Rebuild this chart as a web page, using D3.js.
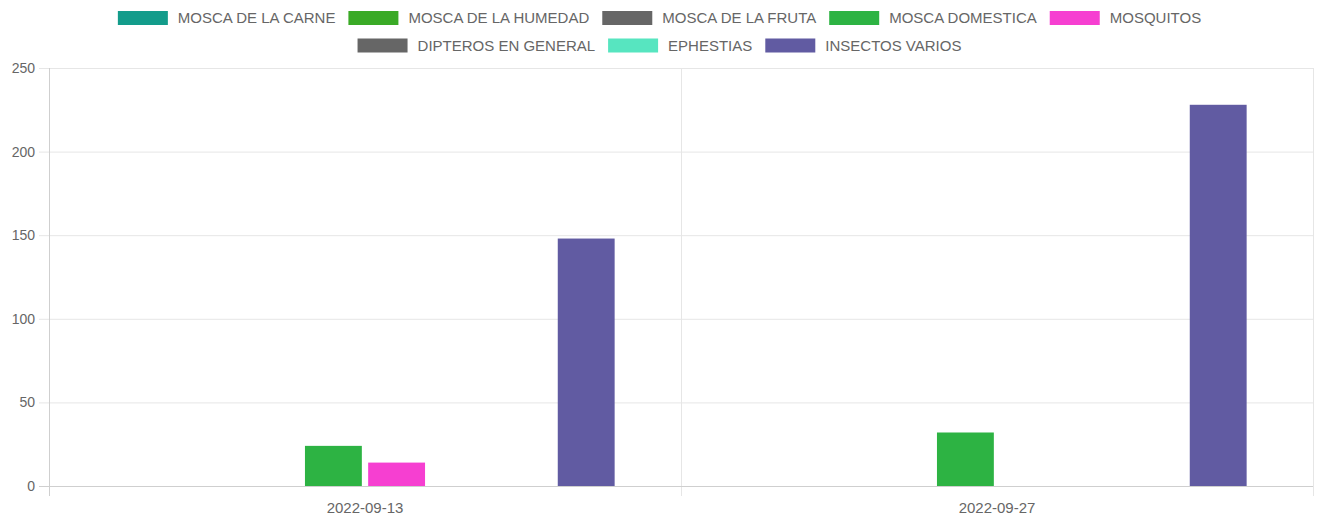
<!DOCTYPE html>
<html>
<head>
<meta charset="utf-8">
<script src="https://cdn.jsdelivr.net/npm/d3@7"></script>
<style>
  body { margin: 0; background: #fff; }
  svg { display: block; font-family: "Liberation Sans", Arial, sans-serif; }
</style>
</head>
<body>
<div id="root"></div>
<script>
const dates = ["2022-09-13", "2022-09-27"]
const series_names = ["MOSCA DE LA CARNE", "MOSCA DE LA HUMEDAD", "MOSCA DE LA FRUTA", "MOSCA DOMESTICA",
  "MOSQUITOS", "DIPTEROS EN GENERAL", "EPHESTIAS", "INSECTOS VARIOS"]
const series_colors = ["#139c8b", "#3aaa26", "#666666", "#2db343", "#f63fd1", "#666666", "#57e5c0", "#615ba2"]
const mosca_carne = [0, 0]
const mosca_humedad = [0, 0]
const mosca_fruta = [0, 0]
const mosca_domestica = [24, 32]
const mosquitos = [14, 0]
const dipteros = [0, 0]
const ephestias = [0, 0]
const insectos_varios = [148, 228]
const y_ticks = [0, 50, 100, 150, 200, 250]

const all_values = [mosca_carne, mosca_humedad, mosca_fruta, mosca_domestica, mosquitos, dipteros, ephestias, insectos_varios]

const W = 1321, H = 518
const margin = {top: 68, right: 8, bottom: 32, left: 49}
const width = W - margin.left - margin.right
const height = H - margin.top - margin.bottom

const svg = d3.select("#root").append("svg").attr("width", W).attr("height", H)

// legend
const legend = svg.append("g")
const box_w = 50, box_h = 14, gap = 10, pad = 13, font = 15
const measure = svg.append("text").style("font-size", font + "px")
const items = series_names.map((name, i) => {
  measure.text(name)
  return {name, color: series_colors[i], w: box_w + gap + measure.node().getComputedTextLength()}
})
measure.remove()
const rows = [[]]
let row_w = 0
for (let item of items) {
  if (row_w + item.w + pad > W - 20 && rows[rows.length - 1].length) { rows.push([]); row_w = 0 }
  rows[rows.length - 1].push(item)
  row_w += item.w + pad
}
rows.forEach((row, r) => {
  const total = d3.sum(row, d => d.w) + pad * (row.length - 1)
  let x = (W - total) / 2 - 1
  const cy = 18 + r * 27.5
  for (let item of row) {
    legend.append("rect").attr("x", x).attr("y", cy - box_h / 2).attr("width", box_w).attr("height", box_h)
      .attr("fill", item.color)
    legend.append("text").attr("x", x + box_w + gap).attr("y", cy).attr("dy", "0.35em")
      .style("font-size", font + "px").attr("fill", "#666").text(item.name)
    x += item.w + pad
  }
})

const g = svg.append("g").attr("transform", `translate(${margin.left},${margin.top})`)

const x_scale = d3.scaleBand().domain(dates).range([0, width])
const x_inner = d3.scaleBand().domain(series_names)
  .range([x_scale.bandwidth() * 0.1, x_scale.bandwidth() * 0.9])
const y_scale = d3.scaleLinear().domain([0, 250]).range([height, 0])

// horizontal grid
g.append("g").call(d3.axisLeft(y_scale).tickValues(y_ticks).tickSize(-width - 10).tickPadding(4))
  .attr("transform", "translate(-10,0)")
  .call(a => a.select(".domain").remove())
  .call(a => a.selectAll(".tick line").attr("x1", 0).attr("x2", width + 10).attr("stroke", "#e6e6e6"))
  .call(a => a.selectAll(".tick text").attr("fill", "#666").style("font-size", "14px")
    .style("font-family", "Liberation Sans, Arial, sans-serif"))

// vertical grid at category boundaries
const bounds = dates.map(d => x_scale(d)).concat([width])
g.append("g").selectAll("line").data(bounds).enter().append("line")
  .attr("x1", d => Math.round(d) + 0.5).attr("x2", d => Math.round(d) + 0.5)
  .attr("y1", 0).attr("y2", height + 10)
  .attr("stroke", (d, i) => i == 0 ? "#cfcfcf" : "#e6e6e6")

// x axis line
g.append("line").attr("x1", -10).attr("x2", width).attr("y1", height + 0.5).attr("y2", height + 0.5)
  .attr("stroke", "#cfcfcf")

g.append("g").selectAll("text").data(dates).enter().append("text")
  .attr("x", d => x_scale(d) + x_scale.bandwidth() / 2).attr("y", height + 27)
  .attr("text-anchor", "middle").attr("fill", "#666").style("font-size", "15px").text(d => d)

// bars
const bar_w = x_inner.bandwidth() * 0.9
series_names.forEach((name, s) => {
  g.append("g").selectAll("rect").data(all_values[s]).enter().append("rect")
    .filter(v => v > 0)
    .attr("x", (v, i) => x_scale(dates[i]) + x_inner(name) + (x_inner.bandwidth() - bar_w) / 2)
    .attr("y", v => y_scale(v))
    .attr("width", bar_w)
    .attr("height", v => height - y_scale(v))
    .attr("fill", series_colors[s])
})
</script>
</body>
</html>
